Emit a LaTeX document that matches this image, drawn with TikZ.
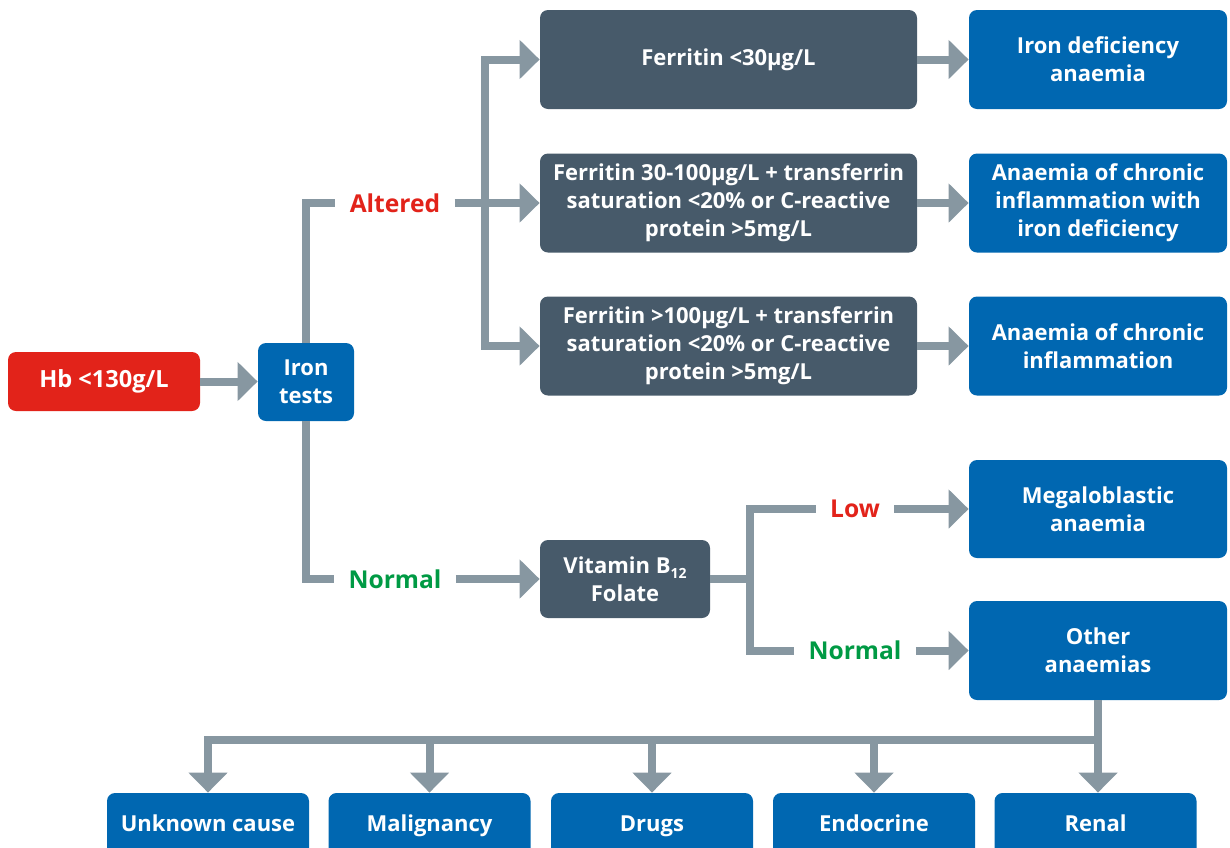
\documentclass[tikz,border=0pt]{standalone}
\usepackage{fontspec}
\setmainfont{Open Sans}
\usetikzlibrary{arrows.meta}
\definecolor{hbred}{HTML}{E2231A}
\definecolor{boxblue}{HTML}{0067B1}
\definecolor{boxdark}{HTML}{475A6A}
\definecolor{linegrey}{HTML}{8797A1}
\definecolor{lblgreen}{HTML}{009A44}
\tikzset{
  base/.style={rounded corners=4pt, text=white, font=\fontsize{11}{14}\selectfont\bfseries, align=center, inner sep=0pt},
  redbox/.style={base, fill=hbred},
  bluebox/.style={base, fill=boxblue},
  darkbox/.style={base, fill=boxdark},
  lowbox/.style={bluebox, minimum width=101pt, minimum height=33pt, text height=8pt, text depth=2.5pt},
  conn/.style={draw=linegrey, line width=4pt, line join=miter},
  arr/.style={conn, -{Triangle[width=19pt,length=10pt]}},
  arrs/.style={conn, {Triangle[width=19pt,length=10pt]}-},
  arrb/.style={conn, {Triangle[width=19pt,length=10pt]}-{Triangle[width=19pt,length=10pt]}},
  lblred/.style={text=hbred, font=\fontsize{12.3}{14}\selectfont\bfseries, inner xsep=7pt},
  lblgrn/.style={text=lblgreen, font=\fontsize{12.3}{14}\selectfont\bfseries, inner xsep=7pt},
}
\begin{document}
\begin{tikzpicture}[x=0.5pt,y=-0.5pt]
\useasboundingbox (0,0) rectangle (1230,847);
% nodes
\node[redbox, minimum width=96pt, minimum height=29.5pt, font=\fontsize{11.8}{14}\selectfont\bfseries] (hb) at (104,381.5) {Hb <130g/L};
\node[bluebox, minimum width=48pt, minimum height=39pt] (iron) at (306,382) {Iron\\tests};
\node[darkbox, minimum width=188.5pt, minimum height=49.5pt] (d1) at (728.5,59.5) {Ferritin <30µg/L};
\node[darkbox, minimum width=188.5pt, minimum height=49.5pt] (d2) at (728.5,203) {Ferritin 30-100µg/L + transferrin\\saturation <20\% or C-reactive\\protein >5mg/L};
\node[darkbox, minimum width=188.5pt, minimum height=49.5pt] (d3) at (728.5,346) {Ferritin >100µg/L + transferrin\\saturation <20\% or C-reactive\\protein >5mg/L};
\node[bluebox, minimum width=129pt, minimum height=49.5pt] (r1) at (1098,59.5) {Iron deficiency\\anaemia};
\node[bluebox, minimum width=129pt, minimum height=49.5pt] (r2) at (1098,203) {Anaemia of chronic\\inflammation with\\iron deficiency};
\node[bluebox, minimum width=129pt, minimum height=49.5pt] (r3) at (1098,346) {Anaemia of chronic\\inflammation};
\node[darkbox, minimum width=85pt, minimum height=39pt] (vit) at (625,579) {Vitamin B\raisebox{-0.45ex}{\fontsize{7}{7}\selectfont 12}\\Folate};
\node[bluebox, minimum width=129pt, minimum height=49pt] (mega) at (1098,509) {Megaloblastic\\anaemia};
\node[bluebox, minimum width=129pt, minimum height=49.5pt] (other) at (1098,650.5) {Other\\anaemias};
\node[lowbox] (b1) at (208,826) {Unknown cause};
\node[lowbox] (b2) at (429.5,826) {Malignancy};
\node[lowbox] (b3) at (652,826) {Drugs};
\node[lowbox] (b4) at (874,826) {Endocrine};
\node[lowbox] (b5) at (1095.5,826) {Renal};
% labels
\node[lblred] (alt) at (395,203) {Altered};
\node[lblgrn] (nrm1) at (395,579) {Normal};
\node[lblred] (low) at (855,509) {Low};
\node[lblgrn] (nrm2) at (855,650.5) {Normal};
\coordinate (tx) at (485,0);
\coordinate (vx) at (750,579);
\coordinate (busy) at (0,740);
% connectors
\draw[arr] (hb.east) -- (hb.east -| iron.west);
\draw[conn] (iron.north) |- (alt.west);
\draw[conn] (iron.south) |- (nrm1.west);
\draw[arr] (alt.east) -- (alt.east -| d2.west);
\draw[arrb] (d1.west) -| (d3.west -| tx) -- (d3.west);
\draw[arr] (d1) -- (r1);
\draw[arr] (d2) -- (r2);
\draw[arr] (d3) -- (r3);
\draw[arr] (nrm1.east) -- (nrm1.east -| vit.west);
\draw[conn] (vit.east) -- (vx);
\draw[conn] (low.west) -| (nrm2.west -| vx) -- (nrm2.west);
\draw[arr] (low.east) -- (low.east -| mega.west);
\draw[arr] (nrm2.east) -- (nrm2.east -| other.west);
\draw[arrs] (b1.north) -- (b1.north |- busy) -| (other.south);
\draw[arr] (b2.north |- busy) -- (b2.north);
\draw[arr] (b3.north |- busy) -- (b3.north);
\draw[arr] (b4.north |- busy) -- (b4.north);
\draw[arr] (other.south |- busy) -- (other.south |- b5.north);
\end{tikzpicture}
\end{document}
